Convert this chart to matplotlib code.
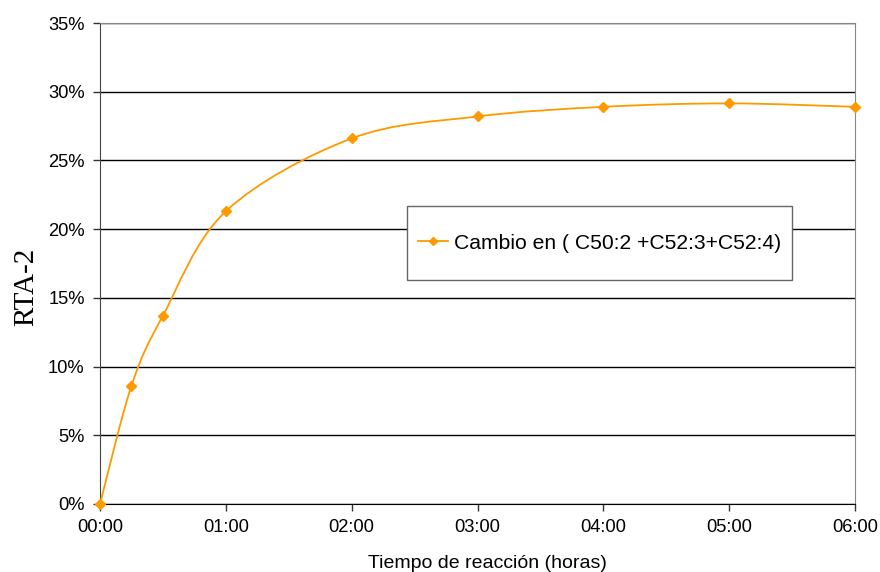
import numpy as np
import matplotlib.pyplot as plt
from matplotlib.path import Path
from matplotlib.patches import PathPatch, Rectangle
from matplotlib.lines import Line2D

# reaction time in hours and change in %
horas = [0, 0.25, 0.5, 1, 2, 3, 4, 5, 6]
cambio = [0.0, 8.6, 13.7, 21.3, 26.6, 28.2, 28.9, 29.15, 28.9]
xticks = [0, 1, 2, 3, 4, 5, 6]
xlabels = ['00:00', '01:00', '02:00', '03:00', '04:00', '05:00', '06:00']
yticks = [0, 5, 10, 15, 20, 25, 30, 35]
serie = 'Cambio en ( C50:2 +C52:3+C52:4)'

color = '#FF9900'
plt.rcParams['font.family'] = ['Liberation Sans', 'DejaVu Sans']

fig = plt.figure(figsize=(8.8, 5.72), dpi=100)
ax = fig.add_axes([100/880, 68/572, 755/880, 481/572])

# smoothed line (bezier through the points, like the spreadsheet does)
pts = np.column_stack([horas, cambio])
n = len(pts)
verts = [pts[0]]
codes = [Path.MOVETO]
for i in range(n - 1):
    p0 = pts[max(i - 1, 0)]
    p1 = pts[i]
    p2 = pts[i + 1]
    p3 = pts[min(i + 2, n - 1)]
    verts += [p1 + (p2 - p0) / 6, p2 - (p3 - p1) / 6, p2]
    codes += [Path.CURVE4] * 3
ax.add_patch(PathPatch(Path(verts, codes), fill=False, edgecolor=color, lw=1.3, zorder=3))
ax.plot(horas, cambio, ls='none', marker='D', ms=5, color=color, zorder=4, clip_on=False)

ax.set_xlim(0, 6)
ax.set_ylim(0, 35)
ax.set_xticks(xticks)
ax.set_xticklabels(xlabels)
ax.set_yticks(yticks)
ax.set_yticklabels([f'{v}%' for v in yticks])
ax.tick_params(labelsize=13.2, length=5, width=1, color='#333333', pad=6)
ax.yaxis.grid(True, color='black', lw=1)
ax.set_axisbelow(True)
for s in ['top', 'right']:
    ax.spines[s].set_color('#888888')
ax.spines['left'].set_color('#444444')
ax.spines['bottom'].set_color('black')

ax.set_xlabel('Tiempo de reacción (horas)', fontsize=14)
ax.xaxis.set_label_coords(0.513, -0.105)
ax.set_ylabel('RTA-2', fontsize=21, family=['Liberation Serif', 'DejaVu Serif'])
ax.yaxis.set_label_coords(-0.08, 0.451)

# legend box
ax.add_patch(Rectangle((0.4066, 0.4657), 0.51, 0.1538, transform=ax.transAxes,
                       facecolor='white', edgecolor='#666666', lw=1, zorder=4.5))
h = Line2D([], [], color=color, marker='D', ms=4, lw=1.3)
ax.legend([h], [serie], loc='center', bbox_to_anchor=(0.6616, 0.5426),
          fontsize=15.2, frameon=False, handlelength=1.4, handletextpad=0.3)

fig.savefig('out.png', dpi=100)
